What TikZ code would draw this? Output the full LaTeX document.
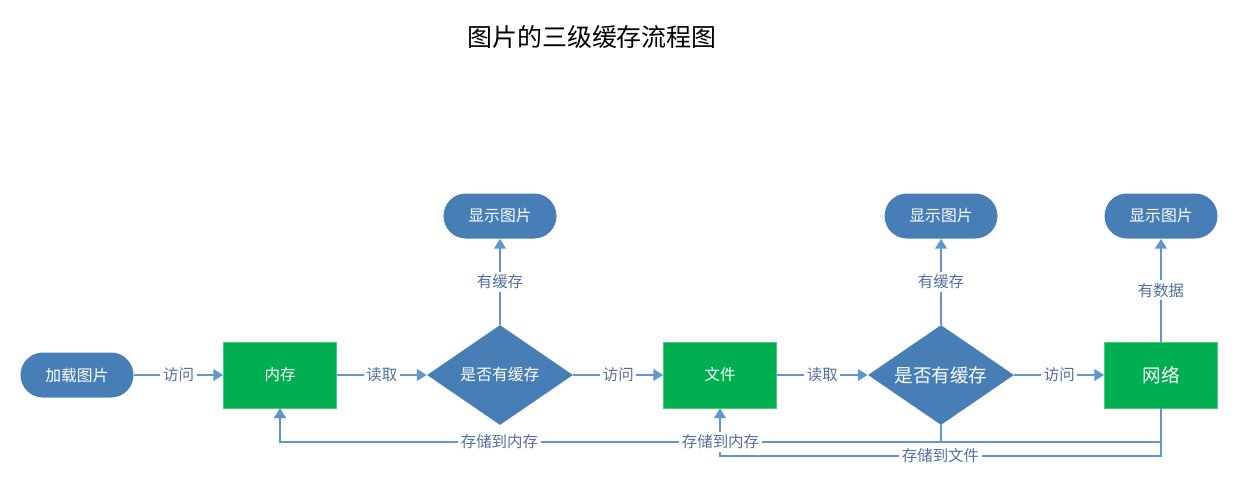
\documentclass[tikz,border=0pt]{standalone}
\usepackage{fontspec}
\setmainfont{Noto Sans CJK SC}
\usetikzlibrary{shapes.geometric,arrows.meta}

\definecolor{nodeblue}{RGB}{72,126,182}
\definecolor{boxgreen}{RGB}{0,176,80}
\definecolor{lineblue}{RGB}{96,150,205}
\definecolor{labelblue}{RGB}{82,112,160}

\pgfdeclarelayer{front}
\pgfsetlayers{main,front}

\tikzstyle{terminal} = [fill=nodeblue, rectangle, rounded corners=0.45cm,
    minimum height=0.9cm, minimum width=2.26cm, text=white,
    font=\fontsize{9pt}{11pt}\selectfont]
\tikzstyle{block} = [draw=boxgreen!70!white, fill=boxgreen, rectangle,
    minimum height=1.32cm, minimum width=2.26cm, text=white,
    font=\fontsize{8.8pt}{11pt}\selectfont]
\tikzstyle{decision} = [fill=nodeblue, diamond, aspect=1.46, inner sep=0pt,
    minimum width=2.92cm, minimum height=2cm, text=white,
    font=\fontsize{9pt}{11pt}\selectfont]
\tikzstyle{big} = [font=\fontsize{10.6pt}{12pt}\selectfont]
\tikzstyle{lbl} = [fill=white, text=labelblue, inner sep=1.5pt,
    font=\fontsize{8.8pt}{11pt}\selectfont]
\tikzstyle{flow} = [draw=lineblue, line width=1.1pt]
\tikzstyle{corner} = [coordinate]

\begin{document}
\begin{tikzpicture}[node distance=4.4cm, >={Triangle[length=5.5pt,width=6.5pt]}]
    \useasboundingbox (-1.54,-2.42) rectangle (23.26,7.5);
    \node [font=\fontsize{14.2pt}{16pt}\selectfont] (title) at (10.3,6.76) {图片的三级缓存流程图};
    % main row
    \node [terminal] (load) {加载图片};
    \node [block, right of=load, node distance=4.06cm] (mem) {内存};
    \node [decision, right of=mem] (check1) {是否有缓存};
    \node [block, right of=check1] (file) {文件};
    \node [decision, big, right of=file, node distance=4.42cm] (check2) {是否有缓存};
    \node [block, big, right of=check2] (net) {网络};
    % results
    \node [terminal, above of=check1, node distance=3.18cm] (show1) {显示图片};
    \node [terminal, above of=check2, node distance=3.18cm] (show2) {显示图片};
    \node [terminal, above of=net, node distance=3.18cm] (show3) {显示图片};
    % turning points below
    \node [corner, below of=check2, node distance=1.34cm] (check2low) {};
    \node [corner, below of=net, node distance=1.34cm] (netlow) {};
    \node [corner, below of=net, node distance=1.62cm] (netlower) {};

    \draw [flow,->] (load) -- node[lbl] {访问} (mem);
    \draw [flow,->] (mem) -- node[lbl] {读取} (check1);
    \draw [flow,->] (check1) -- node[lbl] {访问} (file);
    \draw [flow,->] (file) -- node[lbl] {读取} (check2);
    \draw [flow,->] (check2) -- node[lbl] {访问} (net);
    \draw [flow,->] (check1) -- node[lbl] {有缓存} (show1);
    \draw [flow,->] (check2) -- node[lbl] {有缓存} (show2);
    \draw [flow,->] (net) -- node[lbl] {有数据} (show3);
    % store back, labels kept on top of the shared lines
    \draw [flow,->] (check2) -- (check2low) -| (mem);
    \draw [flow,->] (net) -- (netlow) -| (mem);
    \draw [flow,->] (net) -- (netlower) -| (file);
    \begin{pgfonlayer}{front}
    \path (check2low) -| node[lbl, pos=0.334] {存储到内存} (mem);
    \path (netlow) -| node[lbl, pos=0.25] {存储到内存} (mem);
    \path (netlower) -| node[lbl, pos=0.25] {存储到文件} (file);
    \end{pgfonlayer}
\end{tikzpicture}
\end{document}
